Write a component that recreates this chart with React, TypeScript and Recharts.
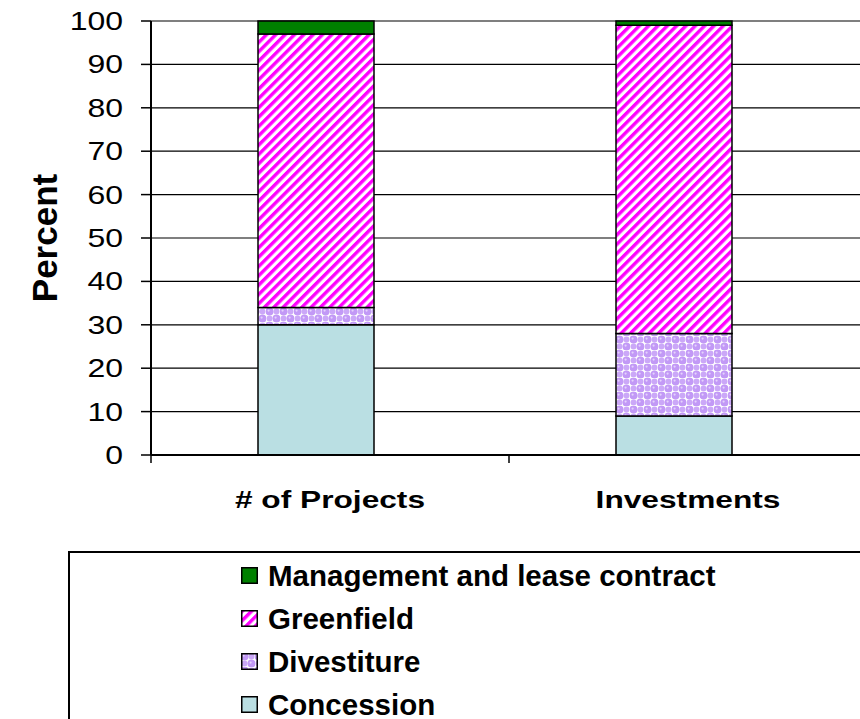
import { BarChart, Bar, XAxis, YAxis, CartesianGrid, Legend } from "recharts"

const FONT = '"Liberation Sans", Arial, sans-serif'

const categories = ["# of Projects", "Investments"]
const concession = [30, 9]
const divestiture = [4, 19]
const greenfield = [63, 71]
const management = [3, 1]
// empty slot to the right of each stacked column (the original leaves the column off-centre)
const spacer = [0, 0]
const yTicks = [0, 10, 20, 30, 40, 50, 60, 70, 80, 90, 100]

const series = [
  { key: "concession", name: "Concession", fill: "#BADFE3" },
  { key: "divestiture", name: "Divestiture", fill: "url(#divestiturePattern)" },
  { key: "greenfield", name: "Greenfield", fill: "url(#greenfieldPattern)" },
  { key: "management", name: "Management and lease contract", fill: "#008000" },
]

const data = categories.map((name, i) => ({
  name,
  concession: concession[i],
  divestiture: divestiture[i],
  greenfield: greenfield[i],
  management: management[i],
  spacer: spacer[i],
}))

function XTick(props: any) {
  const { x, y, payload, width, visibleTicksCount, index } = props
  const half = width / visibleTicksCount / 2
  return (
    <g>
      <line x1={x - half} y1={y} x2={x - half} y2={y + 8} stroke="#000" strokeWidth={1.5} />
      {index === visibleTicksCount - 1 && (
        <line x1={x + half} y1={y} x2={x + half} y2={y + 8} stroke="#000" strokeWidth={1.5} />
      )}
      <text
        transform={`translate(${x},${y + 53}) scale(1.32,1)`}
        textAnchor="middle"
        fontFamily={FONT}
        fontWeight="bold"
        fontSize={24}
        fill="#000"
      >
        {payload.value}
      </text>
    </g>
  )
}

function YTick(props: any) {
  const { x, y, payload } = props
  return (
    <text
      transform={`translate(${x},${y}) scale(1.28,1)`}
      textAnchor="end"
      dy="0.36em"
      fontFamily={FONT}
      fontSize={25}
      fill="#000"
    >
      {payload.value}
    </text>
  )
}

function PercentLabel(props: any) {
  const { viewBox } = props
  const cx = viewBox.x + 44
  const cy = viewBox.y + viewBox.height / 2
  return (
    <text
      transform={`translate(${cx},${cy}) rotate(-90)`}
      textAnchor="middle"
      dy="0.36em"
      fontFamily={FONT}
      fontWeight="bold"
      fontSize={35}
      fill="#000"
    >
      Percent
    </text>
  )
}

function renderLegend(props: any) {
  const items = (props.payload || []).filter((p: any) => p.type !== "none" && p.dataKey !== "spacer").reverse()
  return (
    <div style={{ paddingLeft: 171, paddingTop: 1 }}>
      {items.map((item: any) => (
        <div key={item.value} style={{ display: "flex", alignItems: "center", height: 43 }}>
          <svg width={17} height={17} style={{ marginRight: 10, flex: "none" }}>
            <rect x={0.75} y={0.75} width={15.5} height={15.5} fill={item.color} stroke="#000" strokeWidth={1.5} />
          </svg>
          <span style={{ fontFamily: FONT, fontWeight: "bold", fontSize: 29.5, color: "#000", whiteSpace: "nowrap" }}>
            {item.value}
          </span>
        </div>
      ))}
    </div>
  )
}

export default function App() {
  return (
    <div
      style={{
        position: "fixed",
        left: 0,
        top: 0,
        width: 860,
        height: 719,
        overflow: "hidden",
        background: "#fff",
      }}
    >
      <BarChart
        width={900}
        height={719}
        data={data}
        margin={{ top: 21, right: 33, bottom: 204, left: 0 }}
        barGap={0}
      >
        <defs>
          <pattern
            id="greenfieldPattern"
            patternUnits="userSpaceOnUse"
            width={6.6}
            height={6.6}
            patternTransform="rotate(45)"
          >
            <rect x={0} y={0} width={6.6} height={6.6} fill="#fff" />
            <rect x={0} y={0} width={3.4} height={6.6} fill="#FF00FF" />
          </pattern>
          <pattern id="divestiturePattern" patternUnits="userSpaceOnUse" width={14} height={14}>
            <rect x={0} y={0} width={14} height={14} fill="#fff" />
            <circle cx={3.5} cy={3.5} r={4} fill="#C299F6" />
            <circle cx={10.5} cy={10.5} r={4} fill="#C299F6" />
            <circle cx={10.5} cy={3.5} r={3} fill="#CBA8F8" />
            <circle cx={3.5} cy={10.5} r={3} fill="#CBA8F8" />
            <circle cx={2.6} cy={2.6} r={1.1} fill="#E4D2FC" />
            <circle cx={9.6} cy={9.6} r={1.1} fill="#E4D2FC" />
          </pattern>
        </defs>
        <CartesianGrid vertical={false} stroke="#000" strokeWidth={1.2} />
        <XAxis
          dataKey="name"
          axisLine={{ stroke: "#000", strokeWidth: 2 }}
          tickLine={false}
          tickSize={0}
          tickMargin={0}
          height={60}
          tick={<XTick />}
          interval={0}
        />
        <YAxis
          domain={[0, 100]}
          ticks={yTicks}
          interval={0}
          width={151}
          axisLine={{ stroke: "#000", strokeWidth: 2 }}
          tickLine={{ stroke: "#000", strokeWidth: 1.5 }}
          tickSize={10}
          tickMargin={18}
          tick={<YTick />}
          label={<PercentLabel />}
        />
        <Legend
          layout="vertical"
          align="center"
          verticalAlign="middle"
          content={renderLegend}
          wrapperStyle={{
            left: 68,
            top: 551,
            width: 900,
            height: 220,
            border: "2px solid #000",
            background: "#fff",
          }}
        />
        {series.map((s) => (
          <Bar
            key={s.key}
            dataKey={s.key}
            name={s.name}
            stackId="a"
            barSize={116}
            fill={s.fill}
            stroke="#000"
            strokeWidth={1.5}
            isAnimationActive={false}
          />
        ))}
        <Bar
          dataKey="spacer"
          stackId="b"
          barSize={28}
          fill="none"
          legendType="none"
          isAnimationActive={false}
        />
      </BarChart>
    </div>
  )
}
